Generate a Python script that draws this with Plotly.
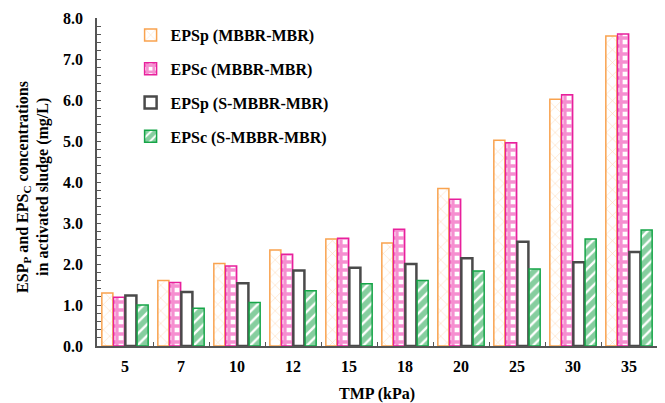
import plotly.graph_objects as go

categories = ["5", "7", "10", "12", "15", "18", "20", "25", "30", "35"]
epsp_mbbr = [1.29, 1.60, 2.01, 2.34, 2.61, 2.51, 3.84, 5.02, 6.02, 7.56]
epsc_mbbr = [1.19, 1.55, 1.95, 2.24, 2.63, 2.85, 3.58, 4.96, 6.13, 7.61]
epsp_smbbr = [1.23, 1.32, 1.53, 1.84, 1.91, 2.00, 2.14, 2.54, 2.04, 2.29]
epsc_smbbr = [1.00, 0.92, 1.06, 1.35, 1.52, 1.60, 1.83, 1.88, 2.61, 2.83]
series_names = ["EPSp (MBBR-MBR)", "EPSc (MBBR-MBR)", "EPSp (S-MBBR-MBR)", "EPSc (S-MBBR-MBR)"]
y_title_lines = ["ESP<sub>P</sub> and EPS<sub>C</sub> concentrations", "in activated sludge (mg/L)"]

FONT = "Liberation Serif"
fig = go.Figure()

fig.add_trace(go.Bar(
    x=categories, y=epsp_mbbr, name="<b>" + series_names[0] + "</b>", legendgroup="a",
    marker=dict(color="white", line=dict(color="#F9A34F", width=1.5),
                pattern=dict(shape="x", fgcolor="#F9B36F", bgcolor="white", size=9, solidity=0.12)),
))
fig.add_trace(go.Bar(
    x=categories, y=epsc_mbbr, name="<b>" + series_names[1] + "</b>", legendgroup="b",
    marker=dict(color="white", line=dict(color="#E8209C", width=1.5),
                pattern=dict(shape="+", fgcolor="#EB1FA2", bgcolor="white", size=8, solidity=0.65)),
))
fig.add_trace(go.Bar(
    x=categories, y=epsp_smbbr, name="<b>" + series_names[2] + "</b>", legendgroup="c",
    marker=dict(color="white", line=dict(color="#4A4A4A", width=2.5)),
))
fig.add_trace(go.Bar(
    x=categories, y=epsc_smbbr, name="<b>" + series_names[3] + "</b>", legendgroup="d",
    marker=dict(color="white", line=dict(color="#16A548", width=1.5),
                pattern=dict(shape="/", fgcolor="#0E9E40", bgcolor="white", size=8, solidity=0.7)),
))

fig.update_layout(
    width=665, height=403,
    margin=dict(l=97, r=8, t=18, b=57),
    paper_bgcolor="white", plot_bgcolor="white",
    barmode="group", bargap=0.16, bargroupgap=0.06,
    font=dict(family=FONT, size=16, color="black"),
    legend=dict(x=0.06, y=1.0, xanchor="left", yanchor="top",
                bgcolor="rgba(0,0,0,0)", font=dict(family=FONT, size=16),
                tracegroupgap=10, itemwidth=30),
    showlegend=True,
)

for line, px in zip(y_title_lines, [24, 43]):
    fig.add_annotation(
        text="<b>" + line + "</b>", xref="paper", yref="paper",
        x=(px - 97) / 560, y=0.485, xanchor="center", yanchor="middle",
        textangle=-90, showarrow=False, font=dict(family=FONT, size=16, color="black"),
    )

fig.update_xaxes(
    type="category", automargin=False,
    showline=True, linecolor="#555555", linewidth=1.5,
    ticks="inside", tickson="boundaries", ticklen=4, tickcolor="#555555",
    tickfont=dict(family=FONT, size=16, color="black", weight="bold"),
    ticklabelstandoff=5,
    title=dict(text="<b>TMP (kPa)</b>", font=dict(family=FONT, size=16), standoff=20),
    showgrid=False, zeroline=False,
)
fig.update_yaxes(
    range=[0, 8], dtick=1, tickformat=".1f", automargin=False,
    showline=True, linecolor="#555555", linewidth=1.5,
    ticks="inside", ticklen=4, tickcolor="#555555",
    minor=dict(dtick=0.2, ticks="inside", ticklen=4, tickcolor="#555555"),
    tickfont=dict(family=FONT, size=16, color="black", weight="bold"),
    ticklabelstandoff=9,
    showgrid=False, zeroline=False,
)

fig.write_html("out.html")
